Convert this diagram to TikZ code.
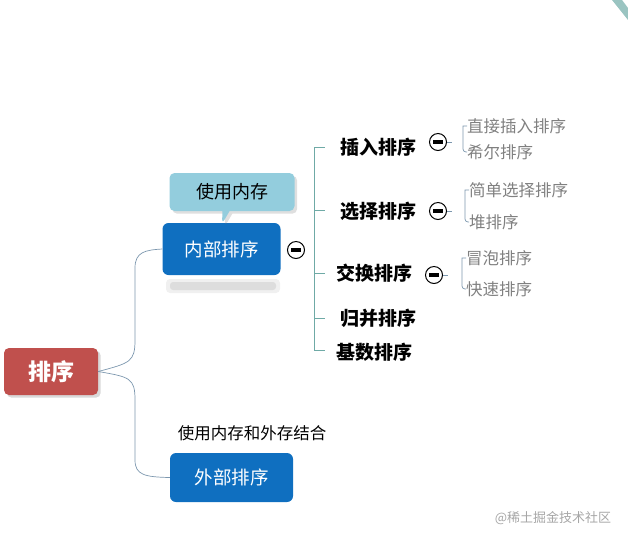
\documentclass[tikz,border=0pt]{standalone}
\usepackage{fontspec}
\setmainfont{Noto Sans CJK SC}
\usetikzlibrary{shapes.callouts,shadows,fadings}
\definecolor{rootred}{HTML}{C0504D}
\definecolor{mainblue}{HTML}{0F6FC0}
\definecolor{calloutblue}{HTML}{93CDDD}
\definecolor{linec}{HTML}{7C97AE}
\definecolor{teal}{HTML}{6FAAA6}
\tikzset{
 rootbox/.style={draw=none,fill=rootred,rounded corners=5pt,text=white,font=\fontsize{23}{23}\selectfont\bfseries,minimum width=94pt,minimum height=47pt,drop shadow={opacity=0.3}},
 bluebox/.style={fill=mainblue,rounded corners=6pt,text=white,font=\fontsize{18.5}{18.5}\selectfont,minimum width=118pt,minimum height=52pt},
 lvl2/.style={font=\fontsize{19}{19}\selectfont\bfseries,anchor=west,inner sep=0pt},
 lvl3/.style={font=\fontsize{16.5}{16.5}\selectfont,text=black!50,anchor=west,inner sep=0pt},
 minusc/.style={circle,draw=black,line width=1pt,fill=white,minimum size=17pt,inner sep=0pt,path picture={\fill[black] ([xshift=-5pt,yshift=-1.6pt]path picture bounding box.center) rectangle ([xshift=5pt,yshift=1.6pt]path picture bounding box.center);}},
 conn/.style={draw=linec,line width=0.7pt},
 tconn/.style={draw=teal,line width=0.7pt},
}
\begin{document}
\begin{tikzpicture}[x=1pt,y=-1pt]
\useasboundingbox (0,0) rectangle (628,542);
\fill[teal!70] (612,0) -- (622,0) -- (628,8) -- (628,20) -- cycle;
\fill[black,opacity=0.06,rounded corners=4pt] (166,279) rectangle (280,293);
\fill[black,opacity=0.08,rounded corners=3pt] (170,282) rectangle (276,290);
\node[bluebox] (int) at (221.5,249) {内部排序};
\node[rectangle callout,fill=calloutblue,rounded corners=5pt,minimum width=125pt,minimum height=38pt,font=\fontsize{18}{18}\selectfont,callout absolute pointer={(222,224)},drop shadow={opacity=0.25}] (mem) at (232,192) {使用内存};
\node[rootbox] (root) at (51,371.5) {排序};
\node[bluebox,minimum width=123pt,minimum height=49pt] (ext) at (231.5,477.5) {外部排序};
\node[font=\fontsize{16.5}{16.5}\selectfont] (extnote) at (252,433) {使用内存和外存结合};
\draw[conn] (root.east) .. controls (130,363) and (135,362) .. (135,340) -- (135,268) .. controls (135,252) and (145,250) .. (int.west);
\draw[conn] (root.east) .. controls (130,377) and (135,378) .. (135,400) -- (135,460) .. controls (135,475) and (145,477) .. (ext.west);
\node[minusc] (m0) at (296,250) {};
\node[lvl2] (a) at (340,147) {插入排序};
\node[lvl2] (b) at (340,211) {选择排序};
\node[lvl2] (c) at (336,273) {交换排序};
\node[lvl2] (d) at (340,318) {归并排序};
\node[lvl2] (e) at (336,352) {基数排序};
\draw[tconn] (314,147) -- (314,350) -- (325,350);
\foreach \y in {147,210,273,318} \draw[tconn] (314,\y) -- (325,\y);
\node[minusc] (m1) at (438,142) {};
\node[minusc] (m2) at (438,211) {};
\node[minusc] (m3) at (434,275) {};
\node[lvl3] (a1) at (467,126) {直接插入排序};
\node[lvl3] (a2) at (467,152) {希尔排序};
\node[lvl3] (b1) at (469,190) {简单选择排序};
\node[lvl3] (b2) at (469,222) {堆排序};
\node[lvl3] (c1) at (466,258) {冒泡排序};
\node[lvl3] (c2) at (466,289) {快速排序};
\foreach \m/\p/\q in {m1/a1/a2,m2/b1/b2,m3/c1/c2}{
 \draw[conn] (\m.east) -- ++(5,0);
 \draw[conn] (\p.west) -- ++(-4,0) coordinate (t) [rounded corners=3pt] -- (t |- \q.west) -- (\q.west);
}
\node[font=\fontsize{13}{13}\selectfont,text=black!35] (wm) at (553,518) {@稀土掘金技术社区};
\end{tikzpicture}
\end{document}
